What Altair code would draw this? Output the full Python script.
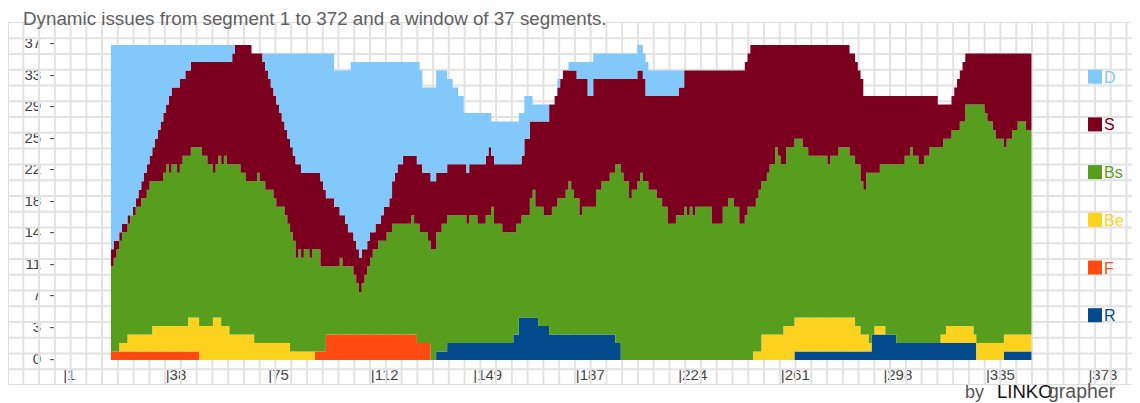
import altair as alt
import numpy as np
import pandas as pd

title_text = "Dynamic issues from segment 1 to 372 and a window of 37 segments."
series = ["D", "S", "Bs", "Be", "F", "R"]
colors = ["#82C8FA", "#7B0020", "#589E1E", "#FCD21E", "#FF4A10", "#024A8C"]
stack_order = ["R", "F", "Be", "Bs", "S", "D"]

first_seg, last_seg = 19, 352

# layer counts as change points (segment, value)
R = [(19, 0), (137, 1), (141, 2), (165, 3), (167, 5), (174, 4), (178, 3), (202, 2), (204, 0),
     (267, 1), (295, 3), (304, 2), (333, 0), (343, 1)]
F = [(19, 1), (51, 0), (93, 1), (97, 3), (130, 2), (135, 0)]
Be = [(19, 0), (22, 1), (25, 2), (34, 3), (47, 4), (56, 5), (59, 4), (62, 3), (71, 2), (84, 1),
      (93, 0), (252, 1), (255, 3), (263, 4), (289, 3), (291, 2), (294, 1), (295, 0), (296, 1),
      (300, 0), (320, 1), (322, 2), (332, 1), (333, 2)]

# cumulative upper edges as change points (segment, value)
top_Bs = [(19, 11), (20, 12), (21, 13), (22, 14), (23, 15), (25, 16), (26, 17), (28, 18), (30, 19),
          (32, 20), (33, 21), (38, 22), (39, 23), (40, 22), (41, 23), (43, 22), (44, 23), (45, 24),
          (48, 25), (52, 24), (54, 23), (56, 22), (57, 23), (58, 24), (59, 23), (60, 24), (61, 23),
          (66, 22), (68, 21), (72, 22), (73, 21), (75, 20), (78, 19), (79, 18), (82, 17), (83, 16),
          (84, 15), (85, 14), (86, 12), (87, 13), (88, 12), (89, 13), (91, 12), (92, 13), (95, 11),
          (102, 12), (103, 11), (107, 10), (108, 9), (109, 8), (110, 9), (111, 10), (112, 11),
          (113, 12), (114, 13), (116, 14), (119, 15), (121, 16), (128, 17), (129, 16), (131, 15),
          (134, 14), (135, 13), (137, 15), (139, 16), (141, 17), (148, 16), (149, 17), (152, 16),
          (155, 17), (157, 18), (158, 16), (161, 15), (166, 16), (168, 17), (171, 19), (172, 20),
          (173, 18), (176, 17), (179, 18), (181, 19), (184, 20), (185, 21), (186, 20), (187, 19),
          (189, 17), (190, 18), (195, 20), (197, 21), (200, 22), (202, 23), (204, 22), (205, 21),
          (207, 19), (208, 20), (210, 21), (211, 22), (212, 21), (214, 20), (217, 19), (219, 18),
          (221, 16), (224, 17), (227, 18), (228, 17), (229, 18), (230, 17), (231, 18), (237, 16),
          (241, 18), (243, 19), (245, 18), (247, 16), (249, 17), (250, 18), (253, 19), (254, 20),
          (255, 21), (257, 22), (258, 23), (260, 25), (261, 24), (262, 23), (264, 25), (267, 26),
          (270, 25), (272, 24), (279, 23), (280, 24), (283, 25), (287, 24), (289, 23), (291, 21),
          (292, 20), (293, 22), (298, 23), (307, 24), (309, 25), (310, 24), (312, 23), (314, 24),
          (316, 25), (321, 26), (324, 27), (327, 28), (329, 30), (336, 29), (337, 28), (339, 27),
          (340, 26), (343, 25), (344, 26), (346, 27), (348, 28), (351, 27)]
top_S = [(19, 13), (20, 14), (22, 15), (23, 16), (25, 17), (27, 18), (28, 19), (29, 20), (30, 21),
         (31, 22), (32, 23), (33, 24), (34, 25), (35, 26), (36, 27), (37, 28), (38, 29), (39, 30),
         (40, 31), (41, 32), (44, 33), (46, 34), (48, 35), (63, 36), (64, 37), (70, 36), (74, 35),
         (75, 34), (76, 33), (77, 32), (78, 31), (79, 30), (80, 29), (81, 28), (82, 27), (83, 26),
         (84, 25), (85, 24), (86, 23), (88, 22), (95, 21), (96, 20), (97, 19), (100, 18), (102, 17),
         (104, 16), (105, 15), (107, 14), (108, 13), (109, 12), (110, 13), (112, 14), (113, 15),
         (115, 16), (117, 17), (118, 18), (120, 19), (121, 21), (122, 22), (123, 23), (125, 24),
         (130, 23), (132, 22), (135, 21), (137, 22), (141, 23), (148, 22), (149, 23), (155, 24),
         (156, 25), (157, 24), (158, 23), (168, 24), (169, 26), (171, 28), (178, 30), (180, 31),
         (181, 32), (182, 33), (183, 34), (188, 33), (192, 31), (194, 33), (210, 34), (212, 33),
         (213, 31), (225, 32), (227, 34), (249, 35), (250, 36), (251, 37), (287, 36), (289, 35),
         (290, 34), (291, 33), (292, 31), (319, 30), (324, 31), (325, 32), (326, 33), (327, 34),
         (328, 35), (329, 36)]
top_all = [(19, 37), (70, 36), (100, 34), (106, 35), (131, 34), (132, 32), (137, 34), (141, 33),
           (143, 32), (145, 31), (147, 29), (157, 28), (167, 29), (169, 31), (172, 30), (180, 31),
           (181, 33), (183, 34), (185, 35), (194, 36), (210, 37), (212, 36), (213, 35), (214, 34),
           (249, 35), (250, 36), (251, 37), (287, 36), (289, 35), (290, 34), (291, 33), (292, 31),
           (319, 30), (324, 31), (325, 32), (326, 33), (327, 34), (328, 35), (329, 36)]

x_tick_values = [1, 38.2, 75.4, 112.6, 149.8, 187, 224.2, 261.4, 298.6, 335.8, 373]
y_tick_values = [0, 3.7, 7.4, 11.1, 14.8, 18.5, 22.2, 25.9, 29.6, 33.3, 37]

# ---------------------------------------------------------------- build table
segs = np.arange(first_seg, last_seg + 1)


def steps(cp):
    out = np.zeros(len(segs))
    for s, v in cp:
        out[segs >= s] = v
    return out


r = steps(R)
f = steps(F)
be = steps(Be)
bs_top = steps(top_Bs)
s_top = steps(top_S)
all_top = steps(top_all)
counts = {
    "R": r,
    "F": f,
    "Be": be,
    "Bs": bs_top - (r + f + be),
    "S": s_top - bs_top,
    "D": all_top - s_top,
}
rows = []
xs = list(segs - 0.5) + [last_seg + 0.5]
for name in stack_order:
    vals = list(counts[name]) + [counts[name][-1]]
    for x, v in zip(xs, vals):
        rows.append({"x": x, "n": v, "series": name, "ord": stack_order.index(name)})
df = pd.DataFrame(rows)

# ---------------------------------------------------------------- geometry
W, H = 1124, 362            # plot area (page x 8..1132, y 22..384)
PX0, PY0 = 8, 22
px_per_seg = 2.756
seg1_px = 62.7
px_per_unit = 8.514
zero_py = 360


def seg_of(px):
    return 1 + (px - seg1_px) / px_per_seg


def val_of(py):
    return (zero_py - py) / px_per_unit


x_dom = [seg_of(PX0), seg_of(PX0 + W)]
y_dom = [val_of(PY0 + H), val_of(PY0)]
xscale = alt.Scale(domain=x_dom, nice=False, zero=False)
yscale = alt.Scale(domain=y_dom, nice=False, zero=False)
cscale = alt.Scale(domain=series, range=colors)

FONT = "Liberation Sans"
grid_color = "#e2e2e2"

xaxis = alt.Axis(values=x_tick_values, labelExpr="'|' + floor(datum.value + 1e-6)",
                 grid=False, ticks=False, tickSize=0, domain=False, title=None,
                 labelAlign="left", labelBaseline="alphabetic", labelPadding=0, offset=-5,
                 labelFontSize=15, labelColor="#444444", labelFont=FONT, labelFlush=False,
                 labelOverlap=False)
yaxis = alt.Axis(values=y_tick_values, labelExpr="floor(datum.value + 1e-6) + '\u00a0 -'",
                 grid=False, ticks=False, tickSize=0, domain=False, title=None,
                 labelAlign="right", labelBaseline="middle", labelPadding=0, offset=-46,
                 labelOffset=-2,
                 labelFontSize=15, labelColor="#444444", labelFont=FONT, labelFlush=False,
                 labelOverlap=False)

gx = pd.DataFrame({"gx": [seg_of(23.3 + 15.76 * k) for k in range(71)]})
gy = pd.DataFrame({"gy": [val_of(38.3 + 15.76 * k) for k in range(22)]})

vgrid = alt.Chart(gx).mark_rule(color=grid_color, strokeWidth=2).encode(
    x=alt.X("gx:Q", scale=xscale, axis=xaxis), y=alt.value(0), y2=alt.value(H))
hgrid = alt.Chart(gy).mark_rule(color=grid_color, strokeWidth=2).encode(
    y=alt.Y("gy:Q", scale=yscale, axis=yaxis), x=alt.value(0), x2=alt.value(W))

area = alt.Chart(df).mark_area(interpolate="step-after").encode(
    x=alt.X("x:Q", scale=xscale, axis=xaxis),
    y=alt.Y("n:Q", stack="zero", scale=yscale, axis=yaxis),
    color=alt.Color("series:N", scale=cscale, legend=None),
    order=alt.Order("ord:Q", sort="ascending"),
)

leg = pd.DataFrame({
    "series": series,
    "lx": [seg_of(1095)] * len(series),
    "ly": [val_of(76.7 + 47.7 * i) for i in range(len(series))],
    "tx": [seg_of(1104)] * len(series),
})
leg_sq = alt.Chart(leg).mark_square(size=196, opacity=1).encode(
    x=alt.X("lx:Q", scale=xscale, axis=xaxis),
    y=alt.Y("ly:Q", scale=yscale, axis=yaxis),
    color=alt.Color("series:N", scale=cscale, legend=None))
leg_tx = alt.Chart(leg).mark_text(align="left", baseline="middle", fontSize=16, font=FONT, dy=1).encode(
    x=alt.X("tx:Q", scale=xscale, axis=xaxis),
    y=alt.Y("ly:Q", scale=yscale, axis=yaxis),
    text="series:N",
    color=alt.Color("series:N", scale=cscale, legend=None))

ttl = alt.Chart(pd.DataFrame({"t": [title_text]})).mark_text(
    align="left", baseline="alphabetic", fontSize=18.8, font=FONT, color="#606060").encode(
    text="t:N", x=alt.value(15), y=alt.value(3))

foot = pd.DataFrame({"t": ["by", "LINKO", "grapher"]})
foot_by = alt.Chart(foot.iloc[[0]]).mark_text(align="left", baseline="alphabetic", fontSize=18,
                                              font=FONT, color="#555555").encode(
    text="t:N", x=alt.value(957), y=alt.value(376))
foot_l = alt.Chart(foot.iloc[[1]]).mark_text(align="left", baseline="alphabetic", fontSize=18.5,
                                             font=FONT, color="#111111").encode(
    text="t:N", x=alt.value(989), y=alt.value(376))
foot_g = alt.Chart(foot.iloc[[2]]).mark_text(align="left", baseline="alphabetic", fontSize=19.5,
                                             font=FONT, color="#555555").encode(
    text="t:N", x=alt.value(1040), y=alt.value(376))

chart = alt.layer(vgrid, hgrid, area, leg_sq, leg_tx, ttl, foot_by, foot_l, foot_g).properties(
    width=W, height=H,
    padding={"left": 0, "top": 14, "right": 0, "bottom": 19},
    autosize=alt.AutoSizeParams(type="none"),
).configure_view(stroke=None).configure(font=FONT, background="white")

chart.save("out.html", embed_options={"renderer": "svg", "actions": False})
